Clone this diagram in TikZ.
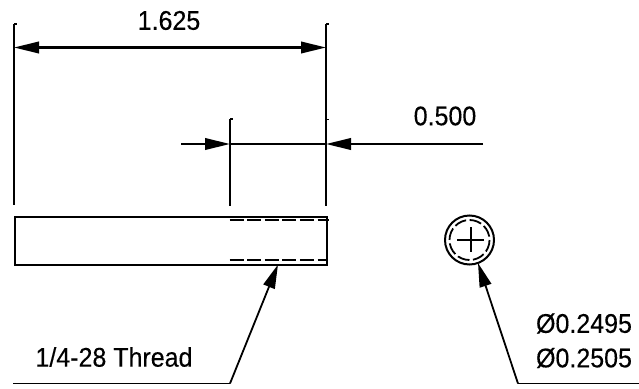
\documentclass[tikz,border=0pt]{standalone}
\usepackage{fontspec}
\setmainfont[FakeBold=0.25]{Liberation Sans}
\usetikzlibrary{arrows.meta}
\newcommand{\tallertext}[1]{\scalebox{1}[1.08]{#1}}
\tikzset{
  ln/.style={line width=2.2pt,line cap=butt},
  thinln/.style={line width=1.8pt},
  dim/.style={ln,-{Triangle[length=25pt,width=11.5pt]}},
  lead/.style={thinln,-{Triangle[length=24pt,width=12pt]}},
  hid/.style={line width=2pt,dash pattern=on 14pt off 3.6pt},
  lab/.style={inner sep=0pt,font=\fontsize{25}{25}\selectfont,text=black},
}
\begin{document}
\begin{tikzpicture}[x=1pt,y=-1pt]
\useasboundingbox (0,0) rectangle (639,388);
% named points
\coordinate (lt) at (14,24); \coordinate (lb) at (14,205);
\coordinate (rt) at (326,24); \coordinate (rb) at (326,206);
\coordinate (mt) at (230,119); \coordinate (mb) at (230,206);
\coordinate (dl) at (14,47.5); \coordinate (dr) at (326,47.5);
\coordinate (sa) at (230,144); \coordinate (sb) at (326,144);
\coordinate (sl) at (181,144); \coordinate (sr) at (483,144);
% extension lines
\draw[ln] (lt)--(lb); \draw[ln] (rt)--(rb); \draw[ln] (mt)--(mb);
\draw[line width=1.4pt] (lt)--++(3,0); \draw[line width=1.4pt] (rt)--++(3,0);
\draw[line width=1.4pt] (mt)--++(3,0); \draw[line width=1.4pt] (326,119.5)--++(3,0);
% dimensions
\draw[dim] (169,47.5)--(dl); \draw[dim] (169,47.5)--(dr);
\draw[ln] (sa)--(sb);
\draw[dim] (sl)--(sa); \draw[dim] (sr)--(sb);
% part
\node[draw,line width=2.2pt,inner sep=0pt,minimum width=312pt,minimum height=48pt,anchor=north west] (part) at (14,216) {};
\draw[hid] (229.5,220)--(329,220);
\draw[hid] (229.5,260)--(327,260);
% end view
\node[circle,draw,line width=2pt,inner sep=0pt,minimum size=49pt] (hole) at (469.5,240) {};
\draw[line width=1.8pt,dash pattern=on 12.2pt off 3.5pt] (469.5,240) circle (20);
\draw[line width=1.8pt] (457,240)--(484,240) (470.7,227)--(470.7,252);
% leaders
\coordinate (a1) at (278,264.5); \coordinate (k1) at (230,383.5); \coordinate (e1) at (13,383.5);
\coordinate (a2) at (478,263); \coordinate (k2) at (518,383.5); \coordinate (e2) at (639,383.5);
\draw[thinln] (e1)--(k1); \draw[lead] (k1)--(a1);
\draw[thinln] (e2)--(k2); \draw[lead] (k2)--(a2);
% labels
\node[lab] (t1) at (169,20.5) {\tallertext{1.625}};
\node[lab] (t2) at (445,116) {\tallertext{0.500}};
\node[lab] (t3) at (114,357) {\tallertext{1/4-28 Thread}};
\node[lab] (t4) at (584,323.5) {\tallertext{Ø0.2495}};
\node[lab] (t5) at (584,358) {\tallertext{Ø0.2505}};
\end{tikzpicture}
\end{document}
